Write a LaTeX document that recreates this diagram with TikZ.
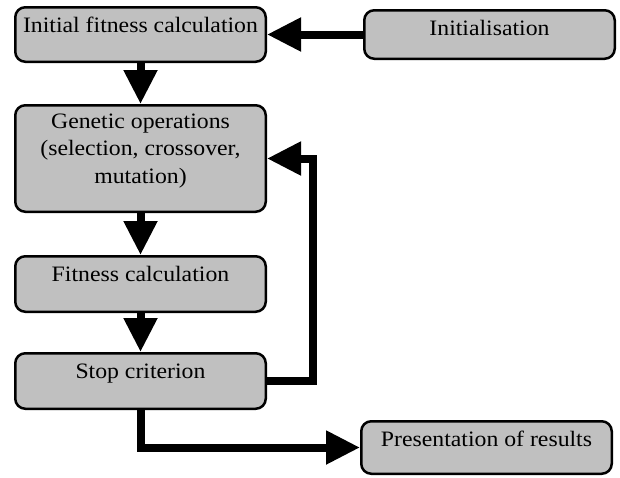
\documentclass[tikz,border=0pt]{standalone}
\usepackage{fontspec}
\setmainfont{Liberation Serif}[FakeStretch=1.08]
\usepackage{tikz}
\usetikzlibrary{positioning,arrows.meta,calc}
\definecolor{ink}     {HTML}{000000}
\definecolor{silver}  {HTML}{C0C0C0}
\tikzset{
  % --- nodes
  stage/.style = {rounded corners=10pt, draw=ink, fill=silver, align=center,
                  line width=2.5pt, inner xsep=0pt, inner ysep=0pt,
                  minimum width=250.5pt, text height=25pt,
                  font=\fontsize{22}{27.5}\selectfont},
  % --- edges
  flow/.style  = {line width=8pt, draw=ink,
                  -{Triangle[length=34pt,width=32pt]}},
}
\begin{document}
\begin{tikzpicture}[x=1pt,y=1pt]
  \useasboundingbox (0,0) rectangle (620,-477);
  \node[stage, text depth=29.5pt, anchor=north west] (fitinit) at (14,-6) {Initial fitness calculation};
  \node[stage, text depth=23.5pt, right=96pt of fitinit] (init) {Initialisation};
  \node[stage, text height=78pt, text depth=28.5pt, below=41pt of fitinit] (genop) {Genetic operations\\(selection, crossover,\\mutation)};
  \node[stage, text depth=30.5pt, below=42pt of genop] (fitcalc) {Fitness calculation};
  \node[stage, text depth=30.5pt, below=39pt of fitcalc] (stop) {Stop criterion};
  \node[stage, text depth=27.5pt, below right=10pt and 93pt of stop] (present) {Presentation of results};
  \draw[flow] (init.west) -- (init.west -| fitinit.east);
  \draw[flow] (fitinit) -- (genop);
  \draw[flow] (genop) -- (fitcalc);
  \draw[flow] (fitcalc) -- (stop);
  \draw[flow] (stop.east) -- ++(46pt,0) |- (genop.east);
  \draw[flow] (stop.south) |- (present.west);
\end{tikzpicture}
\end{document}
